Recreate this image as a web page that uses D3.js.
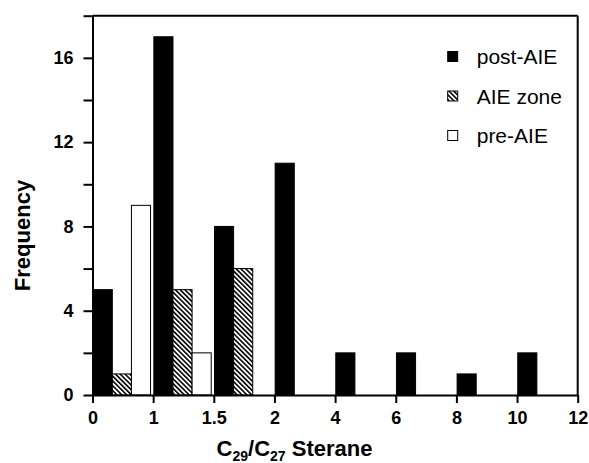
<!DOCTYPE html>
<html>
<head>
<meta charset="utf-8">
<script src="https://cdn.jsdelivr.net/npm/d3@7"></script>
<style>
  body { margin: 0; background: #fff; }
  svg { display: block; font-family: "Liberation Sans", Arial, Helvetica, sans-serif; }
</style>
</head>
<body>
<div id="chart"></div>
<script>
// bin edges shown on the x axis (bins are not evenly sized)
const binEdges = ["0", "1", "1.5", "2", "4", "6", "8", "10", "12"];
const seriesNames = ["post-AIE", "AIE zone", "pre-AIE"];
const postAIE = [5, 17, 8, 11, 2, 2, 1, 2];
const aieZone = [1, 5, 6, 0, 0, 0, 0, 0];
const preAIE = [9, 2, 0, 0, 0, 0, 0, 0];
const yTickLabels = [0, 4, 8, 12, 16];

const W = 589, H = 463;
const margin = {top: 15.7, right: 11.3, bottom: 68, left: 92.5};
const innerW = W - margin.left - margin.right;
const innerH = H - margin.top - margin.bottom;

const svg = d3.select("#chart").append("svg")
    .attr("width", W)
    .attr("height", H);

// hatch for the AIE zone
const defs = svg.append("defs");
defs.append("pattern")
    .attr("id", "hatch")
    .attr("patternUnits", "userSpaceOnUse")
    .attr("width", 3.4)
    .attr("height", 10)
    .attr("patternTransform", "rotate(-45)")
    .call(p => {
        p.append("rect").attr("width", 3.4).attr("height", 10).attr("fill", "#fff");
        p.append("line").attr("x1", 0.8).attr("x2", 0.8).attr("y1", 0).attr("y2", 10)
            .attr("stroke", "#000").attr("stroke-width", 1.6);
    });

const fills = {"post-AIE": "#000", "AIE zone": "url(#hatch)", "pre-AIE": "#fff"};

const g = svg.append("g").attr("transform", `translate(${margin.left},${margin.top})`);

const x = d3.scalePoint().domain(binEdges).range([0, innerW]);
const binW = x.step();
const xSub = d3.scaleBand().domain(seriesNames).range([0.7, binW - 2.6]);
const y = d3.scaleLinear().domain([0, 18]).range([innerH, 0]);

const bars = [];
const seriesVals = [postAIE, aieZone, preAIE];
seriesNames.forEach((s, si) => {
    seriesVals[si].forEach((v, i) => {
        if (v > 0) bars.push({series: s, bin: i, value: v});
    });
});

g.selectAll("rect.bar")
    .data(bars)
    .enter().append("rect")
    .attr("class", "bar")
    .attr("x", d => x(binEdges[d.bin]) + xSub(d.series))
    .attr("y", d => y(d.value))
    .attr("width", xSub.bandwidth())
    .attr("height", d => y(0) - y(d.value))
    .attr("fill", d => fills[d.series])
    .attr("stroke", "#000")
    .attr("stroke-width", 1);

// frame: top and right
g.append("line").attr("x1", 0).attr("x2", innerW).attr("y1", 0).attr("y2", 0)
    .attr("stroke", "#000").attr("stroke-width", 2);
g.append("line").attr("x1", innerW).attr("x2", innerW).attr("y1", 0).attr("y2", innerH)
    .attr("stroke", "#000").attr("stroke-width", 2);

// y axis, ticks every 2, labels every 4
const yAxis = g.append("g")
    .call(d3.axisLeft(y)
        .tickValues(d3.range(0, 19, 2))
        .tickSize(9)
        .tickSizeOuter(0)
        .tickPadding(10)
        .tickFormat(d => yTickLabels.includes(d) ? d : ""));

const xAxis = g.append("g")
    .attr("transform", `translate(0,${innerH})`)
    .call(d3.axisBottom(x).tickSize(8).tickSizeOuter(0).tickPadding(8));

[yAxis, xAxis].forEach(a => {
    a.select(".domain").attr("stroke-width", 2);
    a.selectAll(".tick line").attr("stroke-width", 2);
    a.selectAll("text")
        .attr("font-family", "'Liberation Sans', Arial, sans-serif")
        .attr("font-size", 18)
        .attr("font-weight", "bold")
        .attr("fill", "#000");
});

// axis titles
svg.append("text")
    .attr("transform", `translate(30,${H / 2 + 4}) rotate(-90)`)
    .attr("text-anchor", "middle")
    .attr("font-size", 22)
    .attr("font-weight", "bold")
    .text("Frequency");

const xt = svg.append("text")
    .attr("x", W / 2)
    .attr("y", 456)
    .attr("text-anchor", "middle")
    .attr("font-size", 22)
    .attr("font-weight", "bold");
xt.append("tspan").text("C");
xt.append("tspan").attr("font-size", 14).attr("dy", 5).text("29");
xt.append("tspan").attr("dy", -5).text("/C");
xt.append("tspan").attr("font-size", 14).attr("dy", 5).text("27");
xt.append("tspan").attr("dy", -5).text(" Sterane");

// legend
const legend = svg.append("g").attr("transform", "translate(447.7,51.5)");
const rows = legend.selectAll("g")
    .data(seriesNames)
    .enter().append("g")
    .attr("transform", (d, i) => `translate(0,${i * 39.5})`);
rows.append("rect")
    .attr("width", 10).attr("height", 10)
    .attr("fill", d => fills[d])
    .attr("stroke", "#000")
    .attr("stroke-width", 1);
rows.append("text")
    .attr("x", 29)
    .attr("y", 12.5)
    .attr("font-size", 21)
    .text(d => d);
</script>
</body>
</html>
